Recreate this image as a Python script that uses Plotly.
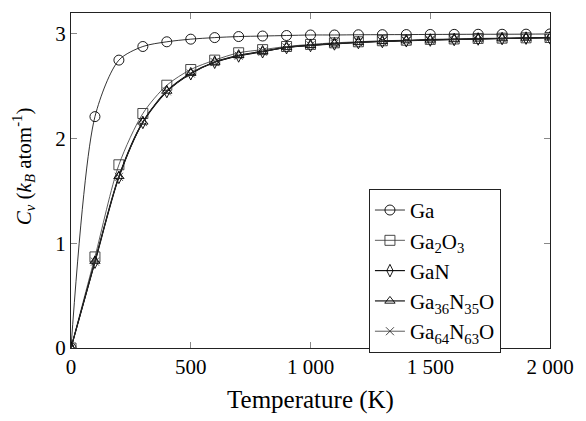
import plotly.graph_objects as go

T = [0, 100, 200, 300, 400, 500, 600, 700, 800, 900, 1000,
     1100, 1200, 1300, 1400, 1500, 1600, 1700, 1800, 1900, 2000]

ga = [0, 2.21, 2.75, 2.88, 2.925, 2.95, 2.965, 2.975, 2.98, 2.985, 2.99,
      2.99, 2.992, 2.993, 2.994, 2.995, 2.996, 2.997, 2.997, 2.998, 3.0]
ga2o3 = [0, 0.87, 1.75, 2.24, 2.51, 2.66, 2.75, 2.82, 2.85, 2.88, 2.90,
         2.915, 2.925, 2.935, 2.94, 2.948, 2.952, 2.957, 2.96, 2.963, 2.966]
gan = [0, 0.82, 1.63, 2.155, 2.45, 2.62, 2.73, 2.79, 2.83, 2.87, 2.89,
       2.905, 2.918, 2.928, 2.935, 2.942, 2.947, 2.952, 2.956, 2.96, 2.963]
ga36n35o = [0, 0.83, 1.64, 2.16, 2.455, 2.625, 2.732, 2.795, 2.835, 2.872, 2.892,
            2.907, 2.92, 2.93, 2.937, 2.943, 2.948, 2.953, 2.957, 2.961, 2.964]
ga64n63o = [0, 0.825, 1.635, 2.158, 2.452, 2.622, 2.731, 2.792, 2.832, 2.871, 2.891,
            2.906, 2.919, 2.929, 2.936, 2.942, 2.947, 2.952, 2.956, 2.96, 2.963]

names = ["Ga", "Ga<sub>2</sub>O<sub>3</sub>", "GaN",
         "Ga<sub>36</sub>N<sub>35</sub>O", "Ga<sub>64</sub>N<sub>63</sub>O"]
series = [ga, ga2o3, gan, ga36n35o, ga64n63o]
symbols = ["circle-open", "square-open", "diamond-tall-open", "triangle-up-open", "x-thin-open"]
sizes = [10, 10, 9, 9, 8]
widths = [0.8, 0.8, 1.1, 1.1, 0.8]
colors = ["#000000", "#333333", "#000000", "#000000", "#333333"]

xticks = [0, 500, 1000, 1500, 2000]
xticktext = ["0", "500", "1 000", "1 500", "2 000"]
yticks = [0, 1, 2, 3]

FONT = "Liberation Serif"
FS = 21

fig = go.Figure()
for name, ys, sym, sz, w, c in zip(names, series, symbols, sizes, widths, colors):
    fig.add_trace(go.Scatter(
        x=T, y=ys, name=name, mode="lines+markers",
        line=dict(color=c, width=w, shape="spline", smoothing=0.8),
        marker=dict(symbol=sym, size=sz, color=c, line=dict(color=c, width=0.9)),
    ))

fig.update_layout(
    width=586, height=421,
    margin=dict(l=71, r=25, t=12, b=59),
    paper_bgcolor="white", plot_bgcolor="white",
    font=dict(family=FONT, size=FS, color="black"),
    showlegend=True,
    legend=dict(
        x=0.622, y=0.475, xanchor="left", yanchor="top",
        bordercolor="#222", borderwidth=1, bgcolor="white",
    ),
    xaxis=dict(
        range=[0, 2000], tickvals=xticks, ticktext=xticktext,
        ticks="inside", ticklen=6, tickcolor="#888", tickwidth=1,
        showline=True, linecolor="#222", linewidth=1, mirror="ticks",
        showgrid=False, zeroline=False,
        title=dict(text="Temperature (K)", standoff=12),
    ),
    yaxis=dict(
        range=[0, 3.2], tickvals=yticks,
        ticks="inside", ticklen=6, tickcolor="#888", tickwidth=1,
        showline=True, linecolor="#222", linewidth=1, mirror="ticks",
        showgrid=False, zeroline=False,
    ),
    annotations=[dict(
        text="<i>C<sub>v</sub></i> (<i>k<sub>B</sub></i> atom<sup>-1</sup>)",
        xref="paper", yref="paper", x=-0.1, y=0.543, textangle=-90,
        showarrow=False, xanchor="center", yanchor="middle",
    )],
)

fig.write_html("out.html")
